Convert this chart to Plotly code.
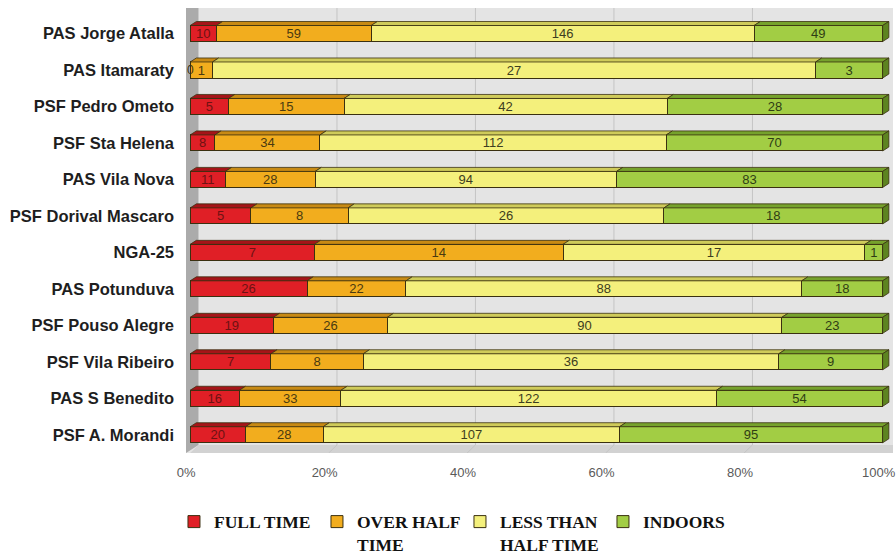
import plotly.graph_objects as go

categories = ["PAS Jorge Atalla", "PAS Itamaraty", "PSF Pedro Ometo", "PSF Sta Helena",
              "PAS Vila Nova", "PSF Dorival Mascaro", "NGA-25", "PAS Potunduva",
              "PSF Pouso Alegre", "PSF Vila Ribeiro", "PAS S Benedito", "PSF A. Morandi"]
full_time = [10, 0, 5, 8, 11, 5, 7, 26, 19, 7, 16, 20]
over_half = [59, 1, 15, 34, 28, 8, 14, 22, 26, 8, 33, 28]
less_half = [146, 27, 42, 112, 94, 26, 17, 88, 90, 36, 122, 107]
indoors = [49, 3, 28, 70, 83, 18, 1, 18, 23, 9, 54, 95]
series_names = ["FULL TIME", "OVER HALF<br>TIME", "LESS THAN<br>HALF TIME", "INDOORS"]
tick_vals = [0, 20, 40, 60, 80, 100]
tick_text = ["0%", "20%", "40%", "60%", "80%", "100%"]

series = [full_time, over_half, less_half, indoors]
front_cols = ["#e01f26", "#f2ad1e", "#f4f07c", "#a2cd44"]
top_cols = ["#a51418", "#c88a14", "#cfcb5a", "#76a22c"]
text_cols = ["#6e1212", "#4a3a10", "#3d3d20", "#2f3d14"]

fig = go.Figure()
for s, name, fc, tc in zip(series, series_names, front_cols, text_cols):
    fig.add_trace(go.Bar(
        y=categories, x=s, name=name, orientation="h",
        marker=dict(color=fc, line=dict(color="#3a3010", width=1)),
        text=[str(v) for v in s], textposition="inside", insidetextanchor="middle",
        textangle=0, textfont=dict(family="Arial, Liberation Sans", size=13, color=tc),
        hoverinfo="skip",
    ))

shapes = []
annotations = []
# 3D walls
shapes.append(dict(type="path", xref="x", yref="y", layer="below",
                   path="M -0.6,11.5 L 1.2,11.28 L 1.2,-0.7 L -0.6,-0.7 Z",
                   fillcolor="#ababab", line=dict(width=0)))
shapes.append(dict(type="path", xref="x", yref="y", layer="below",
                   path="M 0,11.5 L 1.2,11.28 L 101.5,11.28 L 101.5,11.5 Z",
                   fillcolor="#d2d2d2", line=dict(width=0)))
for v in tick_vals[1:-1]:
    shapes.append(dict(type="line", xref="x", yref="y", layer="below",
                       x0=v + 1.2, x1=v + 1.2, y0=11.28, y1=-0.7,
                       line=dict(color="#c4c4c4", width=1)))
    shapes.append(dict(type="line", xref="x", yref="y", layer="below",
                       x0=v, x1=v + 1.2, y0=11.5, y1=11.28,
                       line=dict(color="#c4c4c4", width=1)))

# top faces of bars, computed from the data
dx, dy, half = 0.9, 0.11, 0.22
for i in range(len(categories)):
    tot = sum(s[i] for s in series)
    cum = 0.0
    for k, s in enumerate(series):
        x0 = cum / tot * 100
        cum += s[i]
        x1 = cum / tot * 100
        if x1 <= x0:
            annotations.append(dict(x=x0, y=categories[i], xref="x", yref="y",
                                    text=str(s[i]), showarrow=False,
                                    font=dict(family="Arial, Liberation Sans", size=12,
                                              color="#3a3010")))
            continue
        yt = i - half
        shapes.append(dict(type="path", xref="x", yref="y",
                           path=f"M {x0},{yt} L {x0+dx},{yt-dy} L {x1+dx},{yt-dy} L {x1},{yt} Z",
                           fillcolor=top_cols[k], line=dict(color="#3a3010", width=0.8)))
    yt, yb = i - half, i + half
    shapes.append(dict(type="path", xref="x", yref="y",
                       path=f"M 100,{yt} L {100+dx},{yt-dy} L {100+dx},{yb-dy} L 100,{yb} Z",
                       fillcolor="#5d8420", line=dict(color="#3a3010", width=0.8)))

fig.update_layout(
    width=896, height=556,
    barmode="stack", barnorm="percent", bargap=0.56,
    plot_bgcolor="#e4e4e4", paper_bgcolor="white",
    margin=dict(l=186, r=3, t=8, b=103, autoexpand=False),
    uniformtext=dict(minsize=12, mode="show"),
    shapes=shapes, annotations=annotations,
    xaxis=dict(range=[-0.6, 101.5], tickvals=tick_vals, ticktext=tick_text,
               showgrid=False, zeroline=False, showline=False, ticks="",
               ticklabelstandoff=10, ticklabeloverflow="allow", ticklabelshift=-4,
               tickfont=dict(family="Arial, Liberation Sans", size=13, color="#5a5a5a")),
    yaxis=dict(range=[11.5, -0.7], showgrid=False, zeroline=False, showline=False,
               ticks="", ticklabelstandoff=11,
               tickfont=dict(family="Arial, Liberation Sans", size=16.5, color="#1e1e1e",
                             weight="bold")),
    legend=dict(orientation="h", x=-0.017, xanchor="left", y=-0.114, yanchor="top",
                valign="top", traceorder="normal", entrywidth=98, entrywidthmode="pixels",
                font=dict(family="Liberation Serif, Times New Roman, serif", size=17.5,
                          color="#111111", weight="bold"),
                itemwidth=30, tracegroupgap=0),
    showlegend=True,
)

fig.write_html("out.html")
